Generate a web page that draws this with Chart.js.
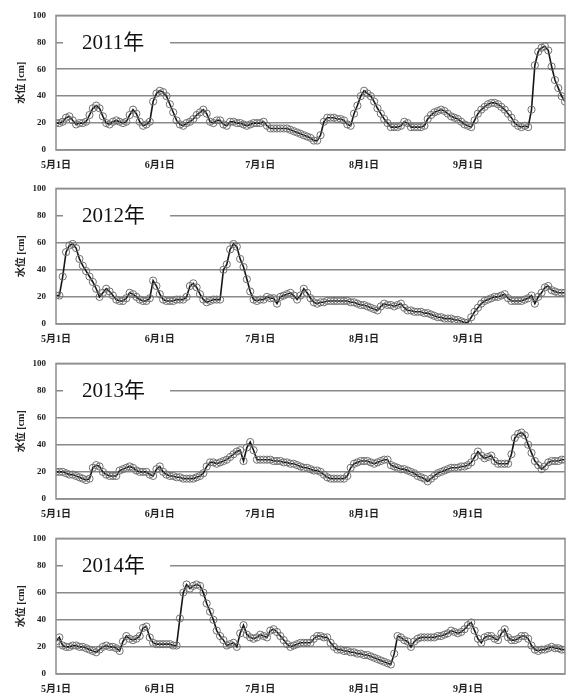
<!DOCTYPE html>
<html>
<head>
<meta charset="utf-8">
<script src="https://cdn.jsdelivr.net/npm/chart.js@4.4.1/dist/chart.umd.min.js"></script>
<style>
  html, body { margin: 0; padding: 0; background: #fff; }
  body { width: 570px; height: 693px; position: relative; overflow: hidden; }
  canvas { position: absolute; left: 0; }
</style>
</head>
<body>
<canvas id="c0" width="570" height="174" style="top:0px"></canvas>
<canvas id="c1" width="570" height="175" style="top:173px"></canvas>
<canvas id="c2" width="570" height="175" style="top:348px"></canvas>
<canvas id="c3" width="570" height="175" style="top:523px"></canvas>
<script>
// Daily water level (cm), 1 May - 30 Sep, one array per year
const level2011 = [
  20,20,21,24,25,22,19,20,20,21, 26,31,33,31,25,20,19,21,22,21,
  20,21,26,30,27,21,18,19,21,36, 42,44,43,40,34,28,22,19,18,20,
  21,23,26,28,30,27,21,20,22,22, 19,18,21,21,20,20,19,18,19,20,
  20,20,21,18,16,16,16,16,16,16, 15,14,13,12,11,10,9,7,7,11,
  21,24,24,24,23,23,22,19,18,27, 33,40,44,42,40,36,31,27,23,20,
  17,17,17,18,21,20,17,17,17,17, 18,23,26,28,29,30,29,27,25,24,
  23,21,19,18,17,22,27,30,32,34, 35,35,34,32,30,27,24,20,18,17,
  18,17,30,63,73,76,77,74,62,52, 46,40,36
];
const level2012 = [
  21,21,35,53,58,59,56,48,43,39, 35,31,26,20,23,26,24,21,18,17,
  17,19,23,22,20,18,17,17,19,32, 28,22,18,17,17,17,18,18,18,20,
  28,30,27,22,18,16,17,18,18,18, 40,44,55,59,57,48,42,33,24,18,
  17,18,18,20,19,19,15,20,21,22, 23,21,18,21,26,23,19,16,15,16,
  16,17,17,17,17,17,17,17,16,16, 15,14,14,13,12,11,10,13,15,14,
  14,13,14,15,12,10,10,9,9,9, 8,8,7,6,5,5,4,4,4,3,
  3,2,1,1,5,9,12,15,17,18, 19,20,20,21,22,19,17,17,17,17,
  18,19,21,15,20,23,27,28,25,24, 23,23,23
];
const level2013 = [
  20,20,20,19,18,18,17,16,15,14, 15,23,25,24,20,18,17,17,17,21,
  22,23,24,23,21,20,20,20,18,17, 22,24,20,18,17,17,16,16,15,15,
  15,15,16,17,19,24,27,27,26,27, 28,29,31,33,35,36,28,38,42,36,
  29,29,29,29,29,28,28,28,27,27, 26,26,25,24,23,23,22,21,21,20,
  18,16,15,15,15,15,15,17,23,26, 27,28,28,28,27,26,27,28,29,29,
  25,24,23,22,22,21,20,19,17,16, 15,13,15,17,19,20,21,22,23,23,
  23,24,24,25,27,31,35,32,30,31, 32,28,26,26,26,26,33,45,48,49,
  47,40,34,28,25,22,24,27,28,28, 28,29,29
];
const level2014 = [
  24,27,21,20,20,21,21,20,20,19, 18,17,16,18,20,21,20,20,19,17,
  24,28,26,25,26,28,34,35,27,23, 22,22,22,22,22,21,21,41,60,66,
  63,65,66,65,60,52,46,40,32,28, 25,21,22,23,20,30,36,29,27,26,
  27,29,28,27,32,33,31,28,25,22, 20,21,22,23,23,23,23,26,28,28,
  27,27,23,20,18,18,17,17,16,16, 15,15,14,14,13,12,11,10,9,8,
  7,15,28,27,25,24,20,24,26,27, 27,27,27,27,28,28,29,30,32,31,
  30,31,33,36,38,32,26,23,27,28, 28,26,25,30,33,27,25,25,26,28,
  28,26,21,18,17,18,18,19,20,19, 19,18,18
];

const yearLabels = ['2011年', '2012年', '2013年', '2014年'];
const yearLevels = [level2011, level2012, level2013, level2014];

// Day offsets from 1 May for the month-start ticks
const monthTickDays = [0, 31, 61, 92, 123];
const monthTickLabels = ['5月1日', '6月1日', '7月1日', '8月1日', '9月1日'];
const lastDay = 152; // 30 Sep

const serif = "'Liberation Serif', 'Noto Sans CJK JP', serif";

// Frame around the plot area plus the year caption on a white patch
const panelDecor = {
  id: 'panelDecor',
  afterDraw(chart, args, opts) {
    const { ctx, chartArea: a } = chart;
    ctx.save();
    ctx.strokeStyle = '#8f8f8f';
    ctx.lineWidth = 1.5;
    ctx.strokeRect(a.left, a.top, a.right - a.left, a.bottom - a.top);
    const cy = a.top + 27;
    ctx.fillStyle = '#fff';
    ctx.fillRect(63, cy - 11, 107, 22);
    ctx.fillStyle = '#111';
    ctx.font = "21px " + serif;
    ctx.textBaseline = 'middle';
    ctx.textAlign = 'left';
    ctx.fillText(opts.caption, 82, cy + 1);
    ctx.restore();
  }
};

yearLevels.forEach((levels, k) => {
  const ctx = document.getElementById('c' + k);
  new Chart(ctx, {
    type: 'line',
    data: {
      datasets: [{
        data: levels.map((v, i) => ({ x: i, y: v })),
        borderColor: '#151515',
        borderWidth: 1.6,
        tension: 0,
        pointRadius: 3.6,
        pointBorderWidth: 1,
        pointBorderColor: '#707070',
        pointBackgroundColor: 'rgba(0,0,0,0)'
      }]
    },
    options: {
      responsive: false,
      animation: false,
      events: [],
      layout: { padding: { top: 12, right: 2, left: 0, bottom: 0 } },
      plugins: {
        legend: { display: false },
        tooltip: { enabled: false },
        panelDecor: { caption: yearLabels[k] }
      },
      scales: {
        x: {
          type: 'linear',
          min: 0,
          max: lastDay,
          grid: { display: false, drawTicks: false },
          border: { display: false },
          afterBuildTicks: s => { s.ticks = monthTickDays.map(v => ({ value: v })); },
          afterFit: s => { s.height = 24; },
          ticks: {
            autoSkip: false,
            maxRotation: 0,
            padding: 9,
            color: '#222',
            font: { family: serif, size: 10, weight: 'bold' },
            callback: v => monthTickLabels[monthTickDays.indexOf(v)]
          }
        },
        y: {
          min: 0,
          max: 100,
          afterFit: s => { s.width = 56; },
          grid: { color: '#8a8a8a', lineWidth: 1.5, drawTicks: false },
          border: { display: false },
          ticks: {
            stepSize: 20,
            padding: 10,
            color: '#222',
            font: { family: serif, size: 9, weight: 'bold' }
          },
          title: {
            display: true,
            text: '水位 [cm]',
            color: '#222',
            padding: { top: 15, bottom: 0 },
            font: { family: serif, size: 10, weight: 'bold' }
          }
        }
      }
    },
    plugins: [panelDecor]
  });
});
</script>
</body>
</html>
